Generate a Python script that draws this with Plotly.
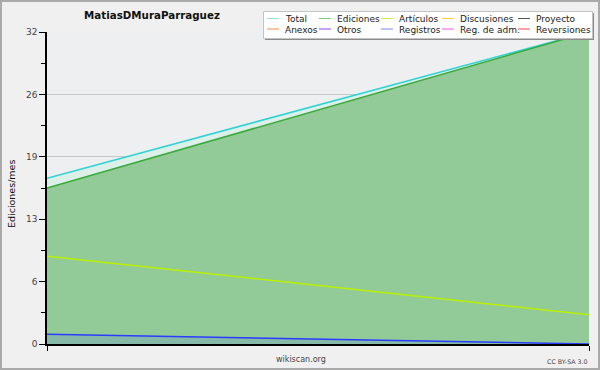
import plotly.graph_objects as go

# ---------------- data ----------------
months = ["Mes 1", "Mes 2"]
total = [17, 32]
ediciones = [16, 32]
articulos = [9, 3]
registros = [1, 0]

legend_names = ["Total", "Ediciones", "Artículos", "Discusiones", "Proyecto",
                "Anexos", "Otros", "Registros", "Reg. de adm.", "Reversiones"]
legend_colors = ["#8fe3e3", "#77cc77", "#c8f03c", "#ffcc33", "#555555",
                 "#ff8844", "#9944ee", "#7788ff", "#ee55ee", "#ff4444"]

y_tickvals = [0, 6.4, 12.8, 19.2, 25.6, 32]
y_ticktext = ["0", "6", "13", "19", "26", "32"]

title = "MatiasDMuraParraguez"
y_title = "Ediciones/mes"

# ---------------- layout helpers ----------------
W, H = 600, 370
L, R, T, B = 47, 11, 32, 26
PW, PH = W - L - R, H - T - B


def px(x):
    return (x - L) / PW


def py(y):
    return (H - B - y) / PH


FONT = "DejaVu Sans"

fig = go.Figure()

fig.add_trace(go.Scatter(x=months, y=total, name="Total", mode="lines",
                         line=dict(color="#2fd3d3", width=1.5),
                         fill="tozeroy", fillcolor="#dcefe9", showlegend=False))
fig.add_trace(go.Scatter(x=months, y=ediciones, name="Ediciones", mode="lines",
                         line=dict(color="#3aaa3a", width=1.5),
                         fill="tozeroy", fillcolor="#93cb98", showlegend=False))
fig.add_trace(go.Scatter(x=months, y=articulos, name="Artículos", mode="lines",
                         line=dict(color="#b8f000", width=1.5), showlegend=False))
fig.add_trace(go.Scatter(x=months, y=registros, name="Registros", mode="lines",
                         line=dict(color="#2a3cff", width=1.5),
                         fill="tozeroy", fillcolor="rgba(60,90,255,0.15)", showlegend=False))

shapes = []
annotations = []

# legend box with shadow
shapes.append(dict(type="rect", xref="paper", yref="paper",
                   x0=px(265), x1=px(594), y0=py(40), y1=py(13),
                   line=dict(width=0), fillcolor="#8a8a8a", layer="above"))
shapes.append(dict(type="rect", xref="paper", yref="paper",
                   x0=px(263.5), x1=px(592.5), y0=py(38.5), y1=py(11.5),
                   line=dict(color="#c4c4c4", width=1), fillcolor="white", layer="above"))
col_sym = [267, 319, 381, 442, 518]
row_y = [18.5, 29]
for i, (name, col) in enumerate(zip(legend_names, legend_colors)):
    r, c = divmod(i, 5)
    x0 = col_sym[c]
    shapes.append(dict(type="line", xref="paper", yref="paper",
                       x0=px(x0), x1=px(x0 + 12), y0=py(row_y[r]), y1=py(row_y[r]),
                       line=dict(color=col, width=1), layer="above"))
    annotations.append(dict(text=name, xref="paper", yref="paper",
                            x=px(x0 + 16), y=py(row_y[r] + 0.5), xanchor="left", yanchor="middle",
                            showarrow=False, font=dict(family=FONT, size=9, color="#222222")))

# outer border
shapes.append(dict(type="rect", xref="paper", yref="paper",
                   x0=px(1), x1=px(599), y0=py(369), y1=py(1),
                   line=dict(color="#aaaaaa", width=2), layer="above"))

annotations.append(dict(text="wikiscan.org", xref="paper", yref="paper",
                        x=px(301), y=py(359), xanchor="center", yanchor="middle",
                        showarrow=False, font=dict(family=FONT, size=8, color="#444444")))
annotations.append(dict(text="CC BY-SA 3.0", xref="paper", yref="paper",
                        x=px(590), y=py(361), xanchor="right", yanchor="middle",
                        showarrow=False, font=dict(family=FONT, size=6.3, color="#444444")))
annotations.append(dict(text=y_title, xref="paper", yref="paper",
                        x=px(12), y=py(194), xanchor="center", yanchor="middle", textangle=-90,
                        showarrow=False, font=dict(family=FONT, size=9.5, color="#111111")))

fig.update_layout(
    width=W, height=H,
    margin=dict(l=L, r=R, t=T, b=B, pad=0),
    paper_bgcolor="#f0f0f0",
    plot_bgcolor="#eeeff1",
    showlegend=False,
    title=dict(text="<b>" + title + "</b>", x=152 / W, xanchor="center",
               y=1 - 15 / H, yanchor="middle", xref="container", yref="container",
               font=dict(family=FONT, size=10.3, color="#111111")),
    shapes=shapes,
    annotations=annotations,
    font=dict(family=FONT),
)

fig.update_xaxes(range=[0, 1], showticklabels=False, showgrid=False, zeroline=False,
                 showline=True, linecolor="black", linewidth=1.5,
                 ticks="outside", ticklen=5, tickcolor="black", tickwidth=1)
fig.update_yaxes(range=[0, 32], tickvals=y_tickvals, ticktext=y_ticktext,
                 showgrid=True, gridcolor="#c8c8c8", gridwidth=1, zeroline=False,
                 showline=True, linecolor="black", linewidth=1.5,
                 ticks="outside", ticklen=6, tickcolor="black", tickwidth=1,
                 tickfont=dict(family=FONT, size=9, color="#444444"),
                 minor=dict(tick0=0, dtick=3.2, ticks="outside", ticklen=4,
                            tickcolor="black", showgrid=False))

fig.write_html("out.html", config={"displayModeBar": False},
               post_script="document.body.style.margin='0';document.body.style.overflow='hidden';")
